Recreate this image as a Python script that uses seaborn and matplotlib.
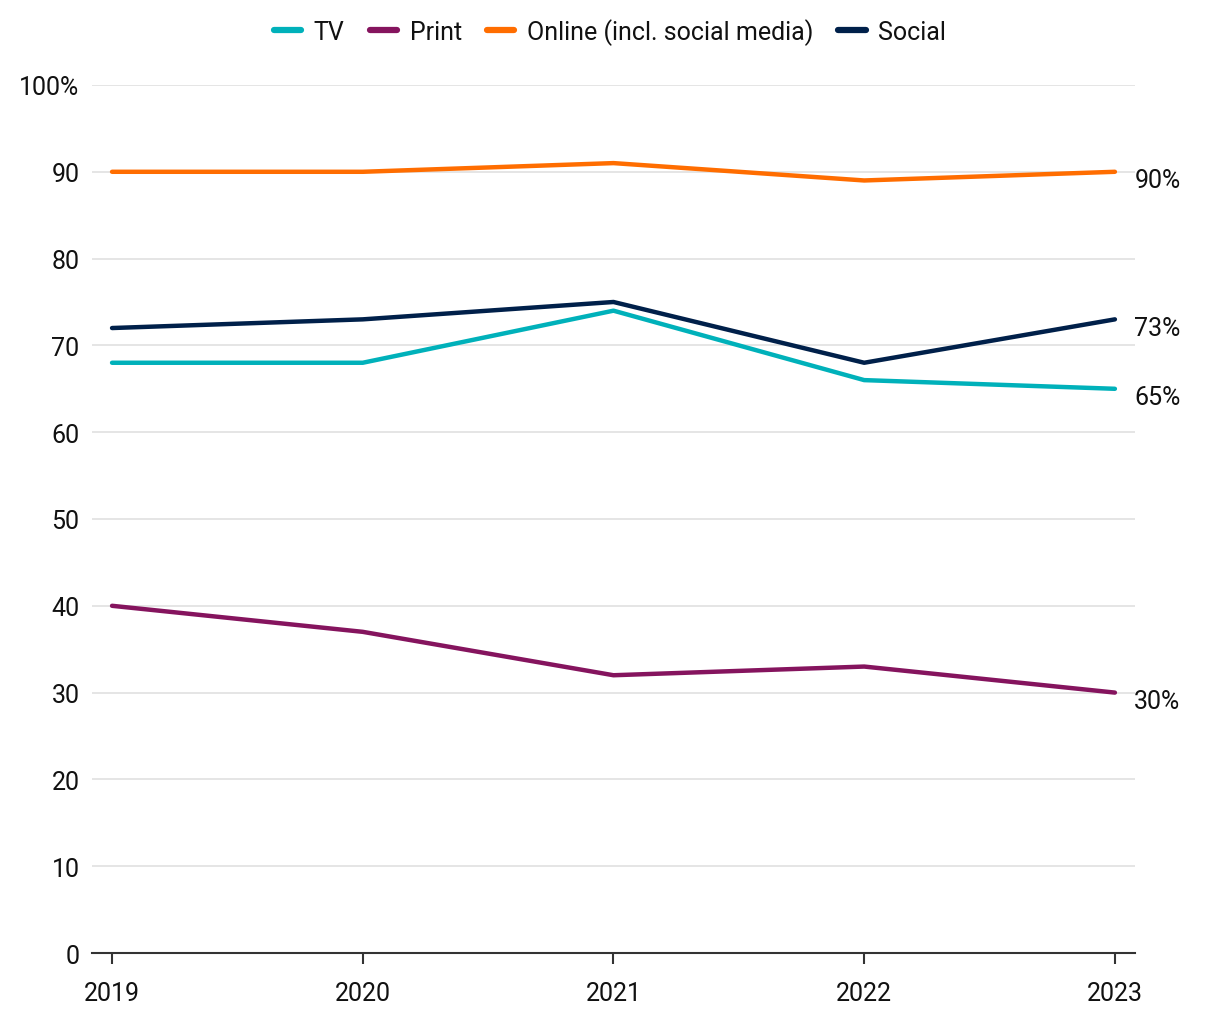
import pandas as pd
import matplotlib.pyplot as plt
import seaborn as sns

years = [2019, 2020, 2021, 2022, 2023]
tv = [68, 68, 74, 66, 65]
print_ = [40, 37, 32, 33, 30]
online = [90, 90, 91, 89, 90]
social = [72, 73, 75, 68, 73]

series = ["TV", "Print", "Online (incl. social media)", "Social"]
colors = ["#00b1ba", "#85145e", "#ff6d00", "#00204a"]
end_labels = {"TV": "65%", "Print": "30%", "Online (incl. social media)": "90%", "Social": "73%"}


def main():
    df = pd.DataFrame({
        "year": years * 4,
        "value": tv + print_ + online + social,
        "series": [s for s in series for _ in years],
    })

    sns.set_theme(style="white")
    plt.rcParams["font.family"] = ["Roboto", "DejaVu Sans"]
    plt.rcParams["text.color"] = "#111111"
    plt.rcParams["xtick.labelcolor"] = "#111111"
    plt.rcParams["ytick.labelcolor"] = "#111111"

    fig = plt.figure(figsize=(12.2, 10.2), dpi=100)
    ax = fig.add_axes([0.0754, 0.0647, 0.8549, 0.851])

    sns.lineplot(data=df, x="year", y="value", hue="series", hue_order=series,
                 palette=colors, linewidth=3.2, ax=ax, legend=False,
                 solid_capstyle="round")

    ax.set_xlim(2018.92, 2023.08)
    ax.set_ylim(0, 100)
    ax.set_yticks(range(0, 101, 10))
    ax.set_yticklabels([str(v) for v in range(0, 100, 10)] + ["100%"])
    ax.set_xticks(years)
    ax.set_xticklabels([str(y) for y in years])
    ax.set_xlabel("")
    ax.set_ylabel("")
    ax.grid(axis="y", color="#e0e0e0", linewidth=1.2)
    ax.set_axisbelow(True)
    for side in ["left", "right", "top"]:
        ax.spines[side].set_visible(False)
    ax.spines["bottom"].set_color("#333333")
    ax.spines["bottom"].set_linewidth(1.5)
    ax.tick_params(axis="x", bottom=True, length=8, width=1.5, color="#333333",
                   labelsize=18, pad=12)
    ax.tick_params(axis="y", left=False, length=0, labelsize=18, pad=9)

    last = {"TV": tv[-1], "Print": print_[-1],
            "Online (incl. social media)": online[-1], "Social": social[-1]}
    for s in series:
        ax.annotate(end_labels[s], xy=(years[-1], last[s]), xytext=(14, -6),
                    textcoords="offset points", fontsize=18, va="center", ha="left",
                    annotation_clip=False)

    handles = [plt.Line2D([0], [0], color=c, linewidth=4.5, solid_capstyle="round")
               for c in colors]
    fig.legend(handles, series, loc="center", bbox_to_anchor=(0.5, 0.968), ncol=4,
               frameon=False, fontsize=18, handlelength=1.1, handletextpad=0.5,
               columnspacing=1.0)

    fig.savefig("out.png", dpi=100)


if __name__ == "__main__":
    main()
